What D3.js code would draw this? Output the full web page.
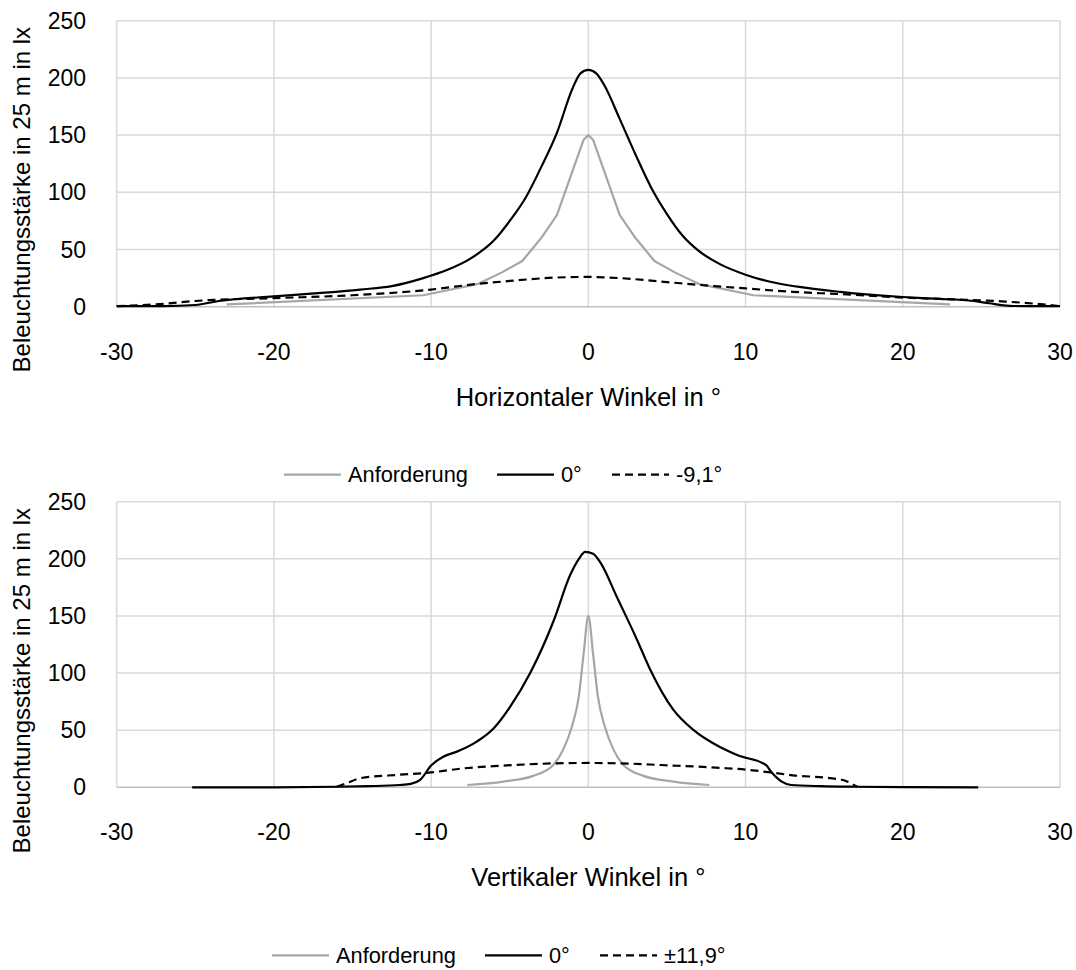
<!DOCTYPE html>
<html>
<head>
<meta charset="utf-8">
<script src="https://cdn.jsdelivr.net/npm/d3@7"></script>
<style>
  html, body { margin: 0; padding: 0; background: #fff; }
  svg { display: block; font-family: "Liberation Sans", Arial, sans-serif; }
</style>
</head>
<body>
<svg id="chart" width="1076" height="970"></svg>
<script>
// Horizontal distribution (angle in °, illuminance in lx at 25 m)
const horizAnforderung = [[-23,2],[-10.5,10],[-7,20],[-5.5,30],[-4.2,40],[-3,60],[-2,80],[-0.3,146],[0,150],[0.3,146],[2,80],[3,60],[4.2,40],[5.5,30],[7,20],[10.5,10],[23,2]];
const horiz0 = [[-30,0.5],[-27,0.5],[-25,1.5],[-23.5,5],[-20,9],[-17,12],[-14.5,15],[-12.5,18],[-10.5,25],[-9,32],[-7.5,42],[-6,58],[-5,75],[-4,95],[-3,122],[-2,152],[-1,191],[-0.5,204],[0,207],[0.5,204],[1,194],[2,164],[3,133],[4,104],[5,81],[6,62],[7,49],[8.4,37],[10,28],[11.5,22],[13.3,17.5],[16,13],[20,8.5],[22,7],[24.5,5],[25.5,3],[26.8,0.8],[28,0.5],[30,0.5]];
const horizMinus91 = [[-30,0.5],[-27,2.5],[-25,5],[-20,7.5],[-15,10],[-10,15],[-7,20],[-5,22.5],[-2,25.5],[0,26],[2,25],[5,21.5],[8,18],[10,16],[13,13],[16,11],[20,8],[24,6],[26.5,4.5],[28.5,2.5],[30,0.5]];

// Vertical distribution
const vertAnforderung = [[-7.7,2],[-5.4,5],[-3.5,10],[-2.2,20],[-1.6,33],[-1.05,53],[-0.6,80],[-0.3,117],[0,150],[0.3,117],[0.6,80],[1.05,53],[1.6,33],[2.2,20],[3.5,10],[5.4,5],[7.7,2]];
const vert0 = [[-25.2,0],[-20,0],[-16,0.5],[-14,1],[-12,2],[-11.3,3],[-10.7,6.5],[-10,19],[-9.2,27],[-8.4,31],[-7.1,40],[-6,52],[-5,70],[-3.7,100],[-2.2,146],[-1.15,186],[-0.6,200],[-0.2,206],[0.3,204.5],[0.8,196],[1.8,167],[3.1,129],[3.9,104],[5.4,68],[6.7,50],[8.4,35],[9.5,28],[11.3,19.5],[11.6,14],[12.3,5],[12.9,2],[14.8,1],[17,0.5],[20,0.2],[24.8,0]];
const vertPm119 = [[-16,0.5],[-15.4,3.5],[-14.5,8],[-12,11],[-10,13],[-8,16.5],[-6,18.5],[-4,20],[-2,21],[0,21.3],[2,21],[4.6,19.5],[8.4,17],[10,15.5],[11.6,13],[13,10.5],[15.4,8],[16.3,6],[16.7,3.5],[17.1,0.5]];

const xTicks = [-30, -20, -10, 0, 10, 20, 30];
const yTicks = [0, 50, 100, 150, 200, 250];
const yTitle = "Beleuchtungsstärke in 25 m in lx";

const panels = [
  { top: 20.7, bottom: 306.7, xTitle: "Horizontaler Winkel in °",
    series: [
      { name: "Anforderung", data: horizAnforderung, color: "#a6a6a6", dash: null, curve: d3.curveLinear },
      { name: "0°", data: horiz0, color: "#000", dash: null, curve: d3.curveMonotoneX },
      { name: "-9,1°", data: horizMinus91, color: "#000", dash: "8,5", curve: d3.curveMonotoneX }
    ],
    legendX: [284, 497, 612] },
  { top: 501.7, bottom: 787.3, xTitle: "Vertikaler Winkel in °",
    series: [
      { name: "Anforderung", data: vertAnforderung, color: "#a6a6a6", dash: null, curve: d3.curveMonotoneX },
      { name: "0°", data: vert0, color: "#000", dash: null, curve: d3.curveMonotoneX },
      { name: "±11,9°", data: vertPm119, color: "#000", dash: "8,5", curve: d3.curveMonotoneX }
    ],
    legendX: [272, 485, 600] }
];

const svg = d3.select("#chart");
const left = 116.7, right = 1060;
const tickSize = 23, legendSize = 21.8, titleSize = 25.5, yTitleSize = 24;
const textColor = "#000";

panels.forEach(p => {
  const x = d3.scaleLinear().domain([-30, 30]).range([left, right]);
  const y = d3.scaleLinear().domain([0, 250]).range([p.bottom, p.top]);
  const g = svg.append("g");

  // grid
  g.selectAll(".hg").data(yTicks.filter(v => v > 0)).join("line")
    .attr("x1", left).attr("x2", right)
    .attr("y1", d => y(d)).attr("y2", d => y(d))
    .attr("stroke", "#d9d9d9").attr("stroke-width", 1.5);
  g.selectAll(".vg").data(xTicks).join("line")
    .attr("x1", d => x(d)).attr("x2", d => x(d))
    .attr("y1", p.top).attr("y2", p.bottom)
    .attr("stroke", "#d9d9d9").attr("stroke-width", 1.5);
  // baseline
  g.append("line").attr("x1", left).attr("x2", right)
    .attr("y1", y(0)).attr("y2", y(0))
    .attr("stroke", "#bfbfbf").attr("stroke-width", 1.5);

  // y tick labels
  g.selectAll(".yl").data(yTicks).join("text")
    .attr("x", 86).attr("y", d => y(d))
    .attr("dy", "0.35em").attr("text-anchor", "end")
    .attr("font-size", tickSize).attr("fill", textColor)
    .text(d => d);
  // x tick labels
  g.selectAll(".xl").data(xTicks).join("text")
    .attr("x", d => x(d)).attr("y", p.bottom + 45)
    .attr("dy", "0.35em").attr("text-anchor", "middle")
    .attr("font-size", tickSize).attr("fill", textColor)
    .text(d => d);

  // axis titles
  g.append("text")
    .attr("x", (left + right) / 2).attr("y", p.bottom + 90)
    .attr("dy", "0.35em").attr("text-anchor", "middle")
    .attr("font-size", titleSize).attr("fill", textColor)
    .text(p.xTitle);
  g.append("text")
    .attr("transform", `translate(22,${p.top + 179}) rotate(-90)`)
    .attr("dy", "0.35em").attr("text-anchor", "middle")
    .attr("font-size", yTitleSize).attr("fill", textColor)
    .text(yTitle);

  // series: Anforderung first, then dashed, then the solid 0° curve on top
  [p.series[0], p.series[2], p.series[1]].forEach(s => {
    const line = d3.line().x(d => x(d[0])).y(d => y(d[1])).curve(s.curve);
    g.append("path").datum(s.data)
      .attr("d", line)
      .attr("fill", "none")
      .attr("stroke", s.color)
      .attr("stroke-width", 2.2)
      .attr("stroke-linejoin", "round")
      .attr("stroke-dasharray", s.dash);
  });

  // legend
  const ly = p.bottom + 168;
  p.series.forEach((s, i) => {
    const lx = p.legendX[i];
    g.append("line").attr("x1", lx).attr("x2", lx + 57)
      .attr("y1", ly).attr("y2", ly)
      .attr("stroke", s.color).attr("stroke-width", 2.2)
      .attr("stroke-dasharray", s.dash);
    g.append("text").attr("x", lx + 64).attr("y", ly)
      .attr("dy", "0.35em")
      .attr("font-size", legendSize).attr("fill", textColor)
      .text(s.name);
  });
});
</script>
</body>
</html>
